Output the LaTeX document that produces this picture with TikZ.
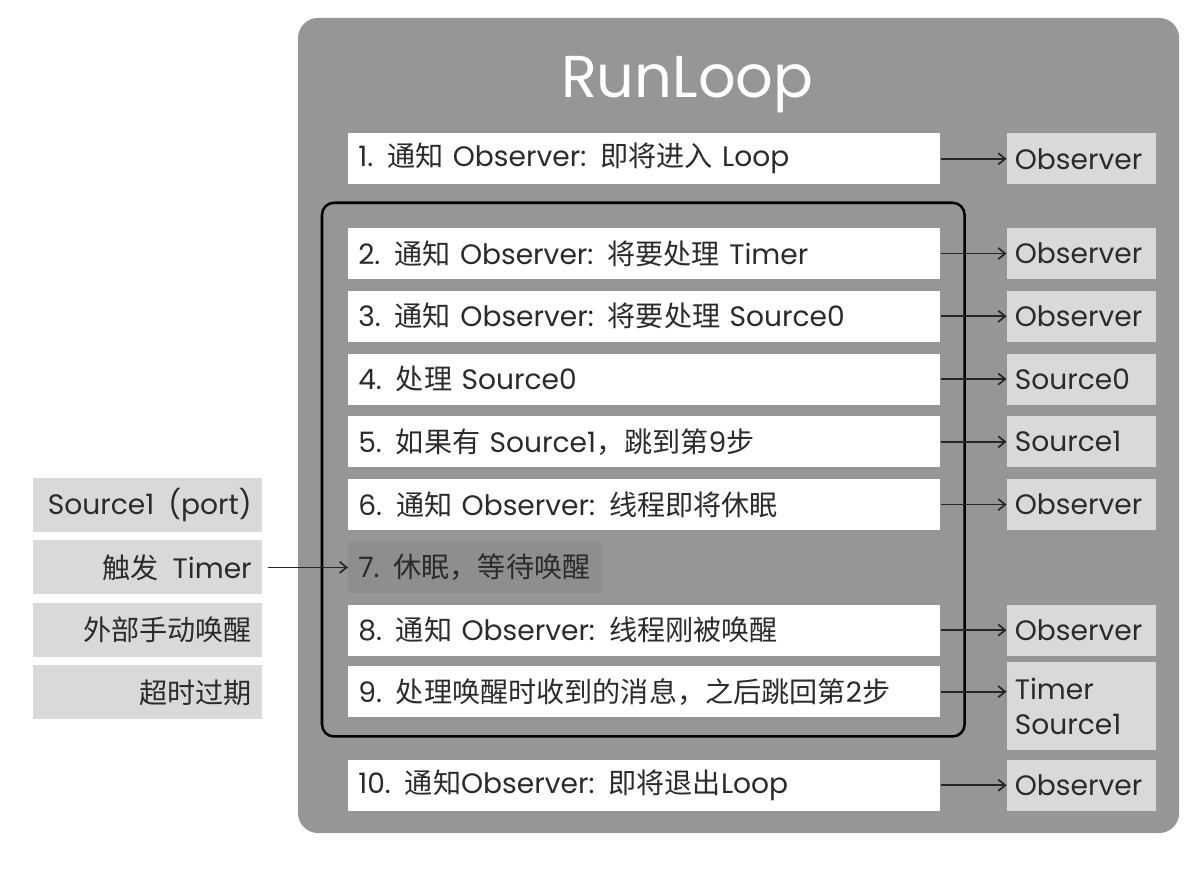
\documentclass[tikz,border=0pt]{standalone}
\usepackage{fontspec}
\setmainfont{Poppins}
\newfontfamily\cjk{Noto Sans CJK SC}
\usepackage{tikz}
\usetikzlibrary{calc, arrows.meta, positioning, backgrounds}
\definecolor{panelgray}{HTML}{969696}
\definecolor{boxgray}{HTML}{D9D9D9}
\definecolor{sleepgray}{HTML}{8E8E8E}
\definecolor{inktext}{HTML}{2B2B2B}
\newcommand{\zh}[1]{{\cjk #1}}

\begin{document}
\begin{tikzpicture}[
        node distance = 0.28cm and 1.65cm,
        base/.style = {rectangle, minimum height=1.275cm, inner xsep=0.25cm, inner ysep=0pt, font=\fontsize{20}{24}\selectfont, text=inktext},
        stepbox/.style = {base, fill=white, text width=14.3cm, align=left},
        sleepbox/.style = {base, fill=sleepgray, text width=5.875cm, align=left},
        outbox/.style = {base, fill=boxgray, inner xsep=0.2cm, text width=3.325cm, align=left},
        wakebox/.style = {base, fill=boxgray, minimum height=1.35cm, text width=5.225cm, align=right},
        arrow/.style = {draw=black!85, -{Straight Barb[length=5pt, width=8pt]}, line width=1.2pt}
    ]
        \useasboundingbox (0,0) rectangle (30,-21.8);

        % Steps
        \node (s1) [stepbox, anchor=north west] at (8.7,-3.325) {1. \zh{通知} Observer: \zh{即将进入} Loop};
        \node (s2) [stepbox, below=1.08cm of s1] {2. \zh{通知} Observer: \zh{将要处理} Timer};
        \node (s3) [stepbox, below=of s2] {3. \zh{通知} Observer: \zh{将要处理} Source0};
        \node (s4) [stepbox, below=of s3] {4. \zh{处理} Source0};
        \node (s5) [stepbox, below=of s4] {5. \zh{如果有} Source1\zh{，跳到第}9\zh{步}};
        \node (s6) [stepbox, below=of s5] {6. \zh{通知} Observer: \zh{线程即将休眠}};
        \node (s7) [sleepbox, below=of s6.south west, anchor=north west] {7. \zh{休眠，等待唤醒}};
        \node (s8) [stepbox, below=of s7.south west, anchor=north west] {8. \zh{通知} Observer: \zh{线程刚被唤醒}};
        \node (s9) [stepbox, below=0.25cm of s8] {9. \zh{处理唤醒时收到的消息，之后跳回第}2\zh{步}};
        \node (s10) [stepbox, below=1.05cm of s9] {10. \zh{通知}Observer: \zh{即将退出}Loop};

        % Title
        \node (title) [font=\fontsize{42}{48}\selectfont, text=white] at ($(s1.north)+(1.075,1.2)$) {RunLoop};

        % Outputs
        \node (o1) [outbox, right=of s1] {Observer};
        \node (o2) [outbox, right=of s2] {Observer};
        \node (o3) [outbox, right=of s3] {Observer};
        \node (o4) [outbox, right=of s4] {Source0};
        \node (o5) [outbox, right=of s5] {Source1};
        \node (o6) [outbox, right=of s6] {Observer};
        \node (o8) [outbox, right=of s8] {Observer};
        \node (o9) [outbox, minimum height=2.2cm, font=\fontsize{20}{25}\selectfont, right=of s9.north east, anchor=north west, yshift=0.1cm] {Timer\\Source1};
        \node (o10) [outbox, right=of s10] {Observer};

        % Wake-up sources
        \node (trig) [wakebox, left=2.15cm of s7] {\zh{触发}\enspace Timer};
        \node (src1) [wakebox, above=0.2cm of trig] {Source1\enspace(port)};
        \node (manual) [wakebox, below=0.2cm of trig] {\zh{外部手动唤醒}};
        \node (timeout) [wakebox, below=0.2cm of manual] {\zh{超时过期}};

        % Panel and loop
        \begin{scope}[on background layer]
            \fill[white] (0,0) rectangle (30,-21.8);
            \fill[panelgray, rounded corners=0.5cm] ($(s1.north west)+(-1.25,2.875)$) rectangle ($(o10.south east)+(0.575,-0.55)$);
        \end{scope}
        \draw[line width=1.8pt, rounded corners=0.3cm] ($(s2.north west)+(-0.65,0.625)$) rectangle ($(s9.south east)+(0.6,-0.475)$);

        % Arrows
        \draw [arrow] (s1) -- (o1);
        \draw [arrow] (s2) -- (o2);
        \draw [arrow] (s3) -- (o3);
        \draw [arrow] (s4) -- (o4);
        \draw [arrow] (s5) -- (o5);
        \draw [arrow] (s6) -- (o6);
        \draw [arrow] (s8) -- (o8);
        \draw [arrow] (s9.east) -- (s9.east -| o9.west);
        \draw [arrow] (s10) -- (o10);
        \draw [arrow, shorten <=0.15cm] (trig) -- (s7);

    \end{tikzpicture}
\end{document}
